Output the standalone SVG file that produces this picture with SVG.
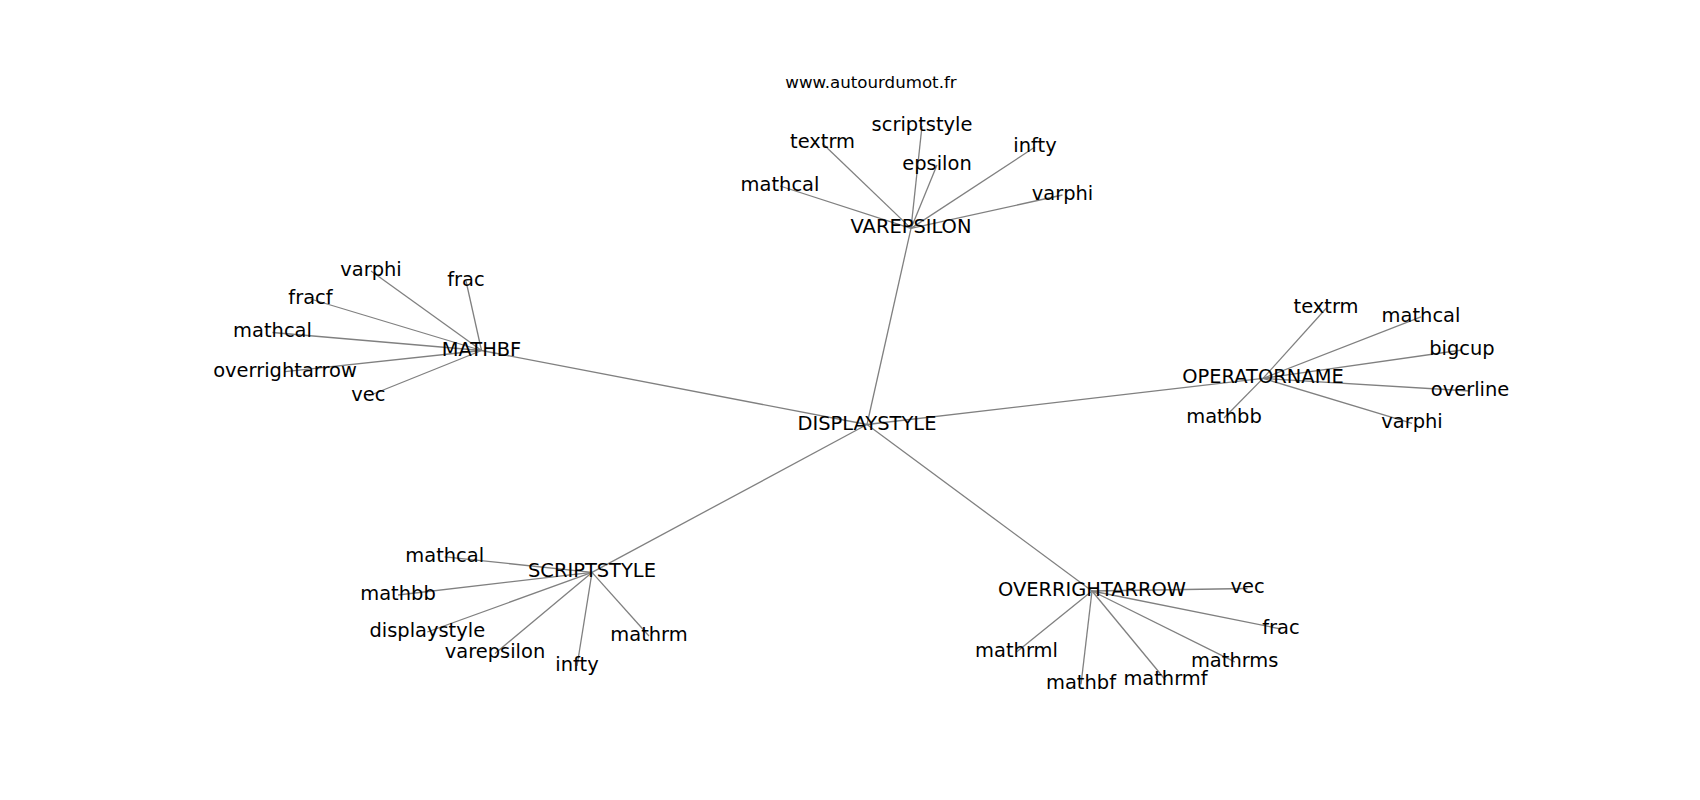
<svg xmlns="http://www.w3.org/2000/svg" width="1700" height="800" viewBox="0 0 1700 800">
<style>
.e{stroke:#808080;stroke-width:1.3;fill:none}
text{font-family:"DejaVu Sans","Liberation Sans",sans-serif;fill:#000;text-anchor:middle}
.n{font-size:19.44px}
.t{font-size:16.67px}
</style>
<rect width="1700" height="800" fill="#fff"/>
<g id="connectors">
<line class="e" x1="867" y1="424.5" x2="911" y2="228.4"/>
<line class="e" x1="867" y1="424.5" x2="481.5" y2="350.5"/>
<line class="e" x1="867" y1="424.5" x2="1263" y2="378.4"/>
<line class="e" x1="867" y1="424.5" x2="592" y2="572.4"/>
<line class="e" x1="867" y1="424.5" x2="1092" y2="591"/>
<line class="e" x1="911" y1="228.4" x2="780" y2="186"/>
<line class="e" x1="911" y1="228.4" x2="822.5" y2="143.5"/>
<line class="e" x1="911" y1="228.4" x2="922" y2="126"/>
<line class="e" x1="911" y1="228.4" x2="937" y2="165"/>
<line class="e" x1="911" y1="228.4" x2="1035" y2="147"/>
<line class="e" x1="911" y1="228.4" x2="1062.5" y2="195"/>
<line class="e" x1="481.5" y1="350.5" x2="371" y2="271"/>
<line class="e" x1="481.5" y1="350.5" x2="466" y2="281"/>
<line class="e" x1="481.5" y1="350.5" x2="310.5" y2="299"/>
<line class="e" x1="481.5" y1="350.5" x2="272.5" y2="332.5"/>
<line class="e" x1="481.5" y1="350.5" x2="285" y2="371.7"/>
<line class="e" x1="481.5" y1="350.5" x2="368.3" y2="396"/>
<line class="e" x1="1263" y1="378.4" x2="1326" y2="308.5"/>
<line class="e" x1="1263" y1="378.4" x2="1421" y2="316.8"/>
<line class="e" x1="1263" y1="378.4" x2="1462" y2="350"/>
<line class="e" x1="1263" y1="378.4" x2="1470" y2="391"/>
<line class="e" x1="1263" y1="378.4" x2="1412" y2="423.4"/>
<line class="e" x1="1263" y1="378.4" x2="1224" y2="418"/>
<line class="e" x1="592" y1="572.4" x2="444.7" y2="556.8"/>
<line class="e" x1="592" y1="572.4" x2="398" y2="595"/>
<line class="e" x1="592" y1="572.4" x2="427.3" y2="632"/>
<line class="e" x1="592" y1="572.4" x2="495" y2="653.4"/>
<line class="e" x1="592" y1="572.4" x2="577" y2="666"/>
<line class="e" x1="592" y1="572.4" x2="649" y2="636"/>
<line class="e" x1="1092" y1="591" x2="1247.5" y2="588.5"/>
<line class="e" x1="1092" y1="591" x2="1281" y2="629"/>
<line class="e" x1="1092" y1="591" x2="1234.7" y2="661.8"/>
<line class="e" x1="1092" y1="591" x2="1165.5" y2="680"/>
<line class="e" x1="1092" y1="591" x2="1081" y2="684.4"/>
<line class="e" x1="1092" y1="591" x2="1016.5" y2="652"/>
</g>
<text id="title" class="t" x="871" y="88.3">www.autourdumot.fr</text>
<g id="n-displaystyle"><text class="n" x="867" y="429.5">DISPLAYSTYLE</text></g>
<g id="n-varepsilon"><text class="n" x="911" y="233.3">VAREPSILON</text></g>
<g id="n-mathbf"><text class="n" x="481.5" y="355.5">MATHBF</text></g>
<g id="n-operatorname"><text class="n" x="1263" y="383.3">OPERATORNAME</text></g>
<g id="n-scriptstyle"><text class="n" x="592" y="577.3">SCRIPTSTYLE</text></g>
<g id="n-overrightarrow"><text class="n" x="1092" y="596">OVERRIGHTARROW</text></g>
<g id="n-v-mathcal"><text class="n" x="780" y="190.7">mathcal</text></g>
<g id="n-v-textrm"><text class="n" x="822.5" y="148.3">textrm</text></g>
<g id="n-v-scriptstyle"><text class="n" x="922" y="130.7">scriptstyle</text></g>
<g id="n-v-epsilon"><text class="n" x="937" y="170">epsilon</text></g>
<g id="n-v-infty"><text class="n" x="1035" y="151.7">infty</text></g>
<g id="n-v-varphi"><text class="n" x="1062.5" y="200">varphi</text></g>
<g id="n-m-varphi"><text class="n" x="371" y="275.7">varphi</text></g>
<g id="n-m-frac"><text class="n" x="466" y="286">frac</text></g>
<g id="n-m-fracf"><text class="n" x="310.5" y="304">fracf</text></g>
<g id="n-m-mathcal"><text class="n" x="272.5" y="337.3">mathcal</text></g>
<g id="n-m-overrightarrow"><text class="n" x="285" y="376.7">overrightarrow</text></g>
<g id="n-m-vec"><text class="n" x="368.3" y="400.7">vec</text></g>
<g id="n-o-textrm"><text class="n" x="1326" y="313.3">textrm</text></g>
<g id="n-o-mathcal"><text class="n" x="1421" y="321.7">mathcal</text></g>
<g id="n-o-bigcup"><text class="n" x="1462" y="355">bigcup</text></g>
<g id="n-o-overline"><text class="n" x="1470" y="396">overline</text></g>
<g id="n-o-varphi"><text class="n" x="1412" y="428.3">varphi</text></g>
<g id="n-o-mathbb"><text class="n" x="1224" y="422.7">mathbb</text></g>
<g id="n-s-mathcal"><text class="n" x="444.7" y="561.7">mathcal</text></g>
<g id="n-s-mathbb"><text class="n" x="398" y="600">mathbb</text></g>
<g id="n-s-displaystyle"><text class="n" x="427.3" y="636.7">displaystyle</text></g>
<g id="n-s-varepsilon"><text class="n" x="495" y="658.3">varepsilon</text></g>
<g id="n-s-infty"><text class="n" x="577" y="670.7">infty</text></g>
<g id="n-s-mathrm"><text class="n" x="649" y="641">mathrm</text></g>
<g id="n-r-vec"><text class="n" x="1247.5" y="593.3">vec</text></g>
<g id="n-r-frac"><text class="n" x="1281" y="634">frac</text></g>
<g id="n-r-mathrms"><text class="n" x="1234.7" y="666.7">mathrms</text></g>
<g id="n-r-mathrmf"><text class="n" x="1165.5" y="685">mathrmf</text></g>
<g id="n-r-mathbf"><text class="n" x="1081" y="689.3">mathbf</text></g>
<g id="n-r-mathrml"><text class="n" x="1016.5" y="656.7">mathrml</text></g>
</svg>
